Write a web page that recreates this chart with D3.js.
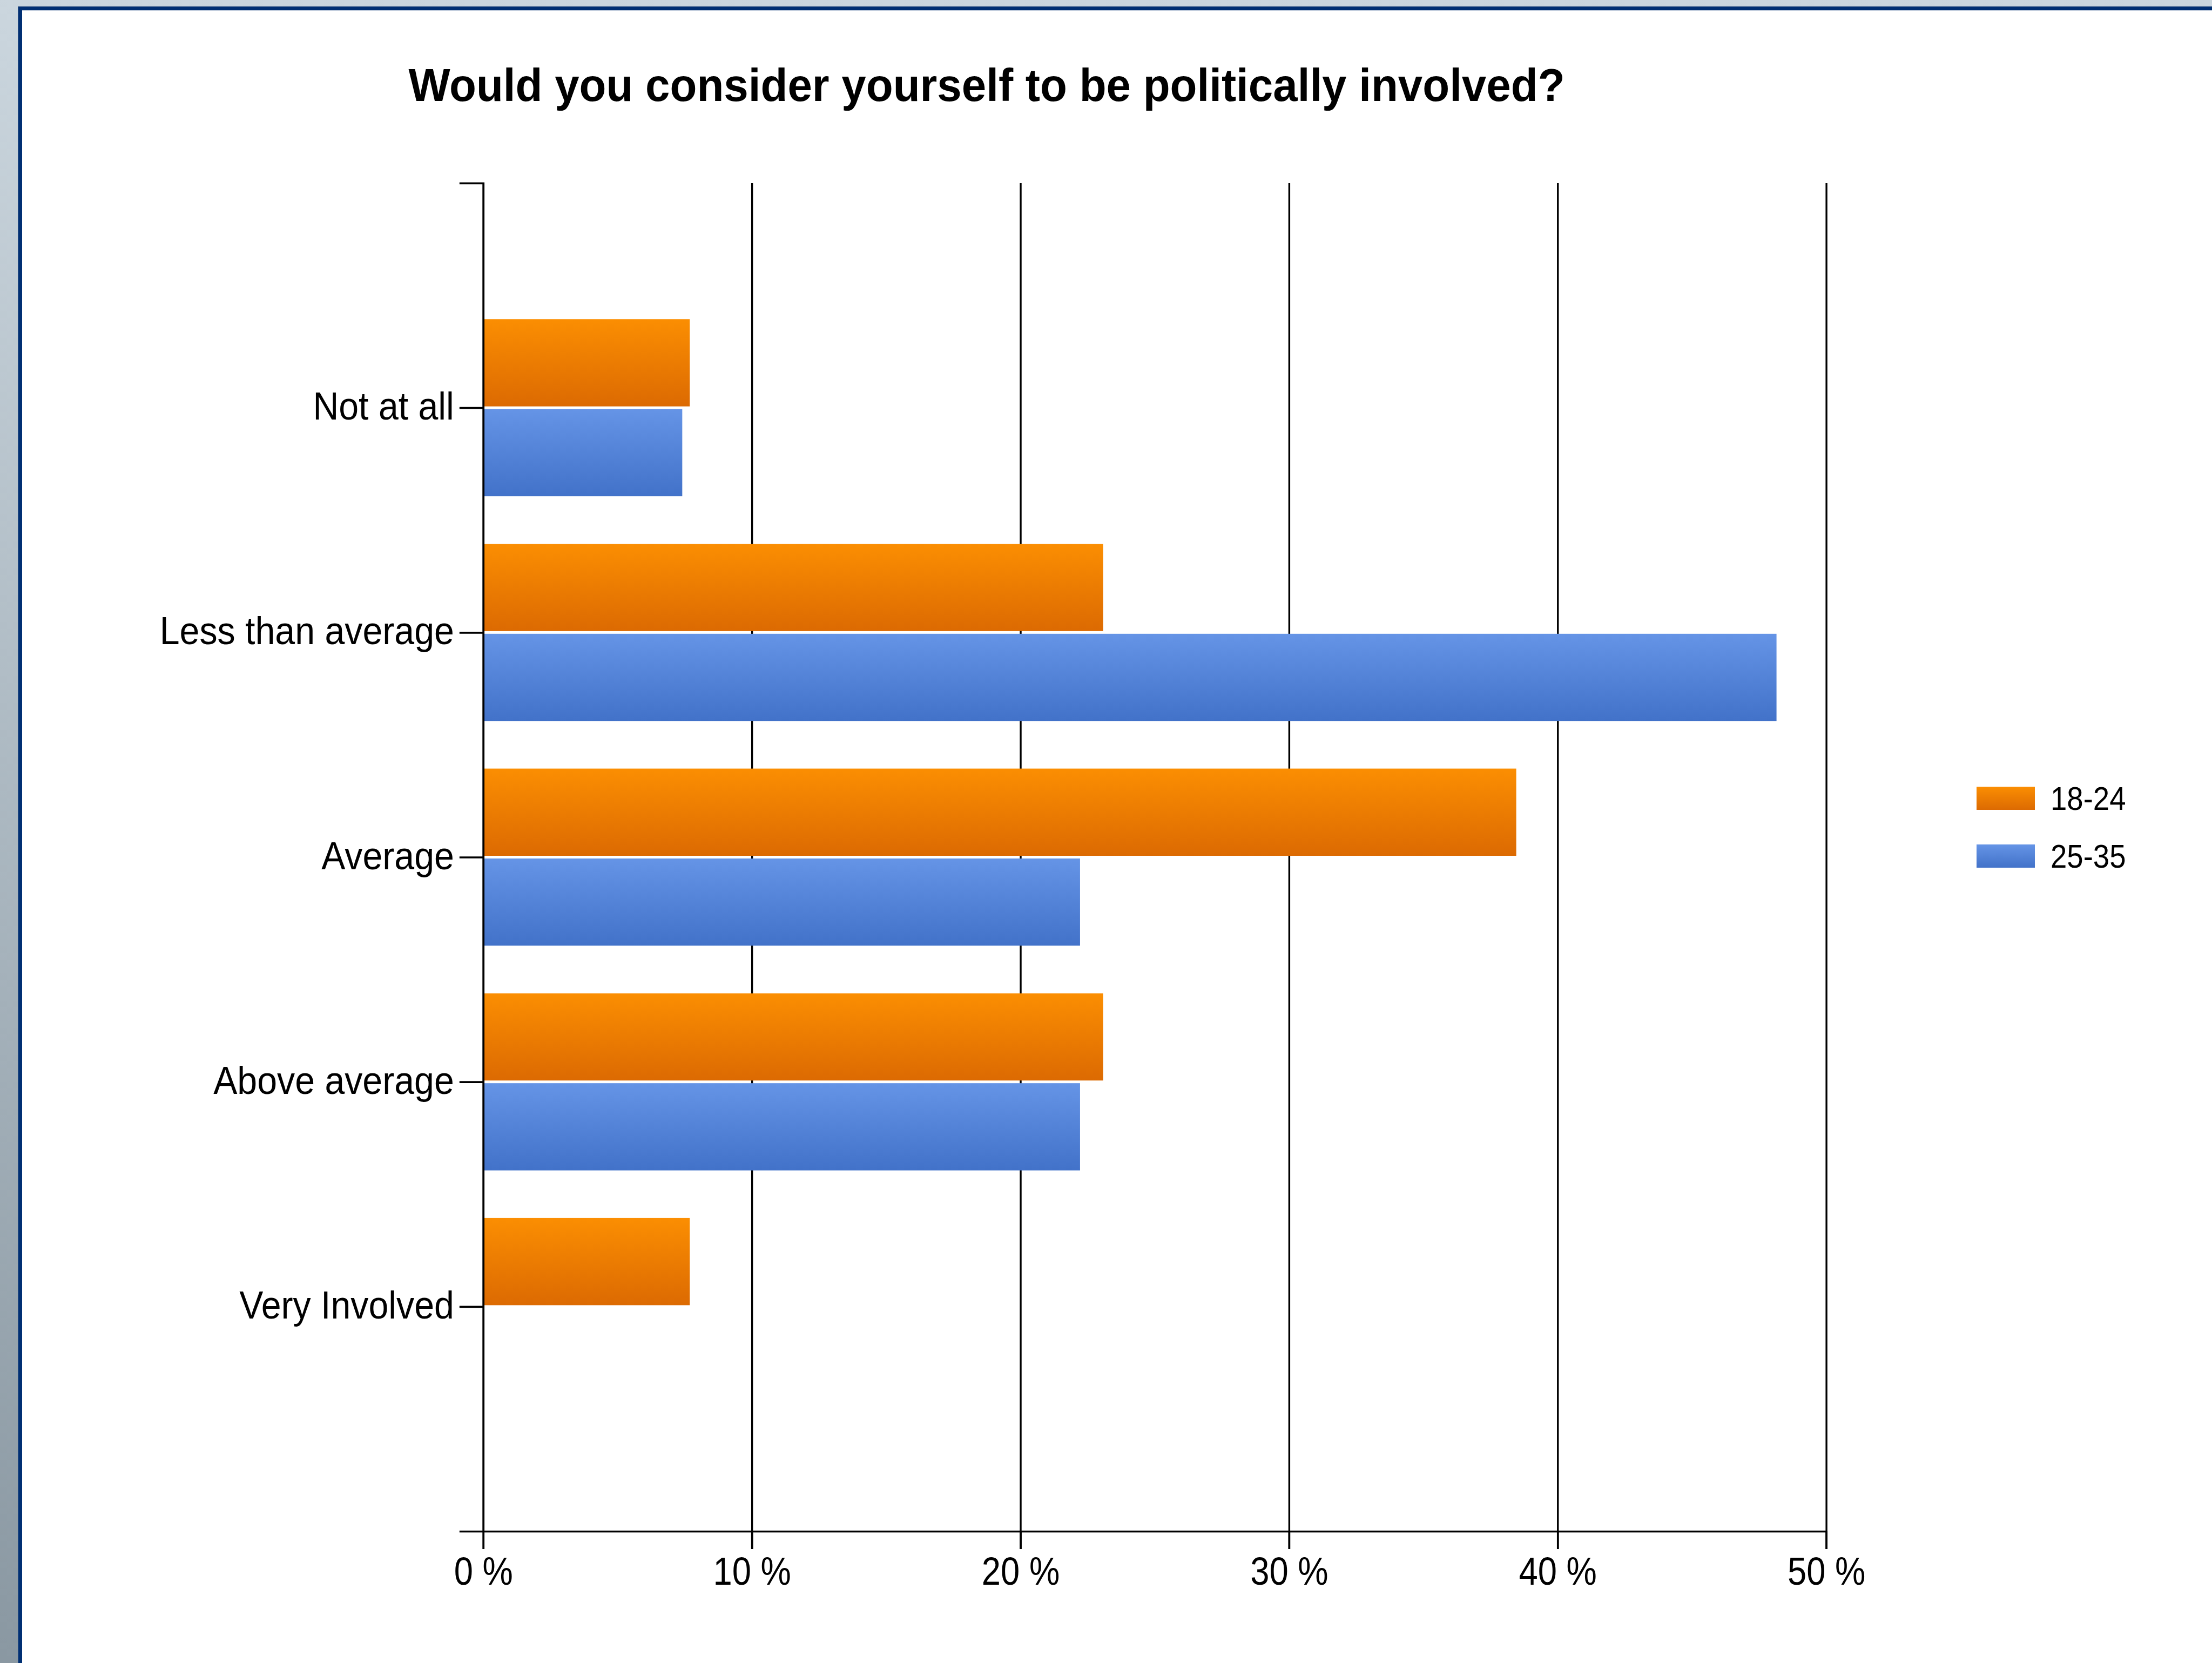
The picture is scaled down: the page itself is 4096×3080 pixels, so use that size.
<!DOCTYPE html>
<html>
<head>
<meta charset="utf-8">
<script src="https://cdn.jsdelivr.net/npm/d3@7"></script>
<style>
  html, body { margin: 0; padding: 0; background: #ffffff; }
  svg { display: block; }
</style>
</head>
<body>
<script>
// Survey answers: share of respondents per age group (percent)
const categories = ["Not at all", "Less than average", "Average", "Above average", "Very Involved"];
const seriesNames = ["18-24", "25-35"];
const values1824 = [7.69, 23.08, 38.46, 23.08, 7.69];
const values2535 = [7.41, 48.15, 22.22, 22.22, 0];
const xTicks = [0, 10, 20, 30, 40, 50];
const titleText = "Would you consider yourself to be politically involved?";

const W = 4096, H = 3080;
const FONT = "'Liberation Sans', Arial, sans-serif";

const svg = d3.select("body").append("svg")
  .attr("width", W).attr("height", H);

const defs = svg.append("defs");
function vGrad(id, stops) {
  const g = defs.append("linearGradient").attr("id", id)
    .attr("x1", 0).attr("y1", 0).attr("x2", 0).attr("y2", 1);
  stops.forEach(([o, c]) => g.append("stop").attr("offset", o).attr("stop-color", c));
}
vGrad("bg", [[0, "#cbd6de"], [1, "#8a98a2"]]);
vGrad("orange", [[0, "#fb8e02"], [1, "#dc6a02"]]);
vGrad("blue", [[0, "#6594e6"], [1, "#4272c9"]]);

// window backdrop and framed white panel
svg.append("rect").attr("width", W).attr("height", H).attr("fill", "url(#bg)");
svg.append("rect").attr("x", 33.5).attr("y", 12).attr("width", W).attr("height", H)
  .attr("fill", "#002f73").attr("stroke", "#5a7598").attr("stroke-width", 1);
svg.append("rect").attr("x", 41).attr("y", 19.2).attr("width", W).attr("height", H)
  .attr("fill", "#ffffff");

// scales
const x = d3.scaleLinear().domain([0, 50]).range([894.8, 3381.6]);
const y = d3.scalePoint().domain(categories).range([339, 2836]).padding(1);
const half = 0.394 * y.step();
const sub = d3.scaleBand().domain(seriesNames).range([-half, half]).paddingInner(0.03);
const plotTop = 339, plotBottom = 2836;
const xTickLen = 33, yTickLen = 44;

// vertical gridlines, continuing below the axis as tick marks
const grid = svg.append("g").attr("transform", `translate(0,${plotTop})`)
  .call(d3.axisTop(x).tickValues(xTicks).tickFormat("")
    .tickSize(-(plotBottom - plotTop + xTickLen)).tickSizeOuter(0));
grid.select(".domain").remove();
grid.selectAll(".tick line").attr("stroke", "#000").attr("stroke-width", 3.4);

// bars
const rows = categories.map((c, i) => ({ cat: c, vals: [values1824[i], values2535[i]] }));
const fills = { "18-24": "url(#orange)", "25-35": "url(#blue)" };
svg.append("g").selectAll("g").data(rows).join("g")
  .attr("transform", d => `translate(0,${y(d.cat)})`)
  .selectAll("rect")
  .data(d => seriesNames.map((s, j) => ({ s, v: d.vals[j] })).filter(e => e.v > 0))
  .join("rect")
  .attr("x", x(0))
  .attr("y", d => sub(d.s))
  .attr("width", d => x(d.v) - x(0))
  .attr("height", sub.bandwidth())
  .attr("fill", d => fills[d.s]);

// category axis
const yAxis = svg.append("g").attr("transform", `translate(${x(0)},0)`)
  .call(d3.axisLeft(y).tickSize(yTickLen).tickSizeOuter(yTickLen).tickPadding(10));
yAxis.selectAll("path, line").attr("stroke", "#000").attr("stroke-width", 3.6);
yAxis.selectAll("text").attr("fill", "#000").attr("font-size", 72)
  .attr("font-family", FONT).attr("dy", "0.3em").attr("data-squeeze", 0.92);

// percentage axis
const xAxis = svg.append("g").attr("transform", `translate(0,${plotBottom})`)
  .call(d3.axisBottom(x).tickValues(xTicks).tickSize(xTickLen).tickSizeOuter(0)
    .tickPadding(15).tickFormat(d => d + " %"));
xAxis.selectAll("path, line").attr("stroke", "#000").attr("stroke-width", 3.6);
xAxis.selectAll("text").attr("fill", "#000").attr("font-size", 72)
  .attr("font-family", FONT).attr("data-squeeze", 0.88);

// title
svg.append("text").attr("class", "title")
  .attr("x", 1827).attr("y", 187).attr("text-anchor", "middle")
  .attr("font-family", FONT).attr("font-weight", "bold").attr("font-size", 86)
  .attr("fill", "#000").attr("data-squeeze", 0.95).text(titleText);

// legend
const legend = svg.append("g").attr("transform", "translate(3660,1457)");
const item = legend.selectAll("g").data(seriesNames).join("g")
  .attr("transform", (d, i) => `translate(0,${i * 107})`);
item.append("rect").attr("width", 108).attr("height", 43)
  .attr("fill", d => fills[d]);
item.append("text").attr("x", 137).attr("y", 43)
  .attr("font-family", FONT).attr("font-size", 62).attr("fill", "#000")
  .attr("data-squeeze", 0.88).text(d => d);

// narrow the glyphs the way the original renderer did
svg.selectAll("text").each(function () {
  const k = +this.getAttribute("data-squeeze") || 0.9;
  const len = this.getComputedTextLength();
  d3.select(this).attr("textLength", len * k).attr("lengthAdjust", "spacingAndGlyphs");
});
</script>
</body>
</html>
